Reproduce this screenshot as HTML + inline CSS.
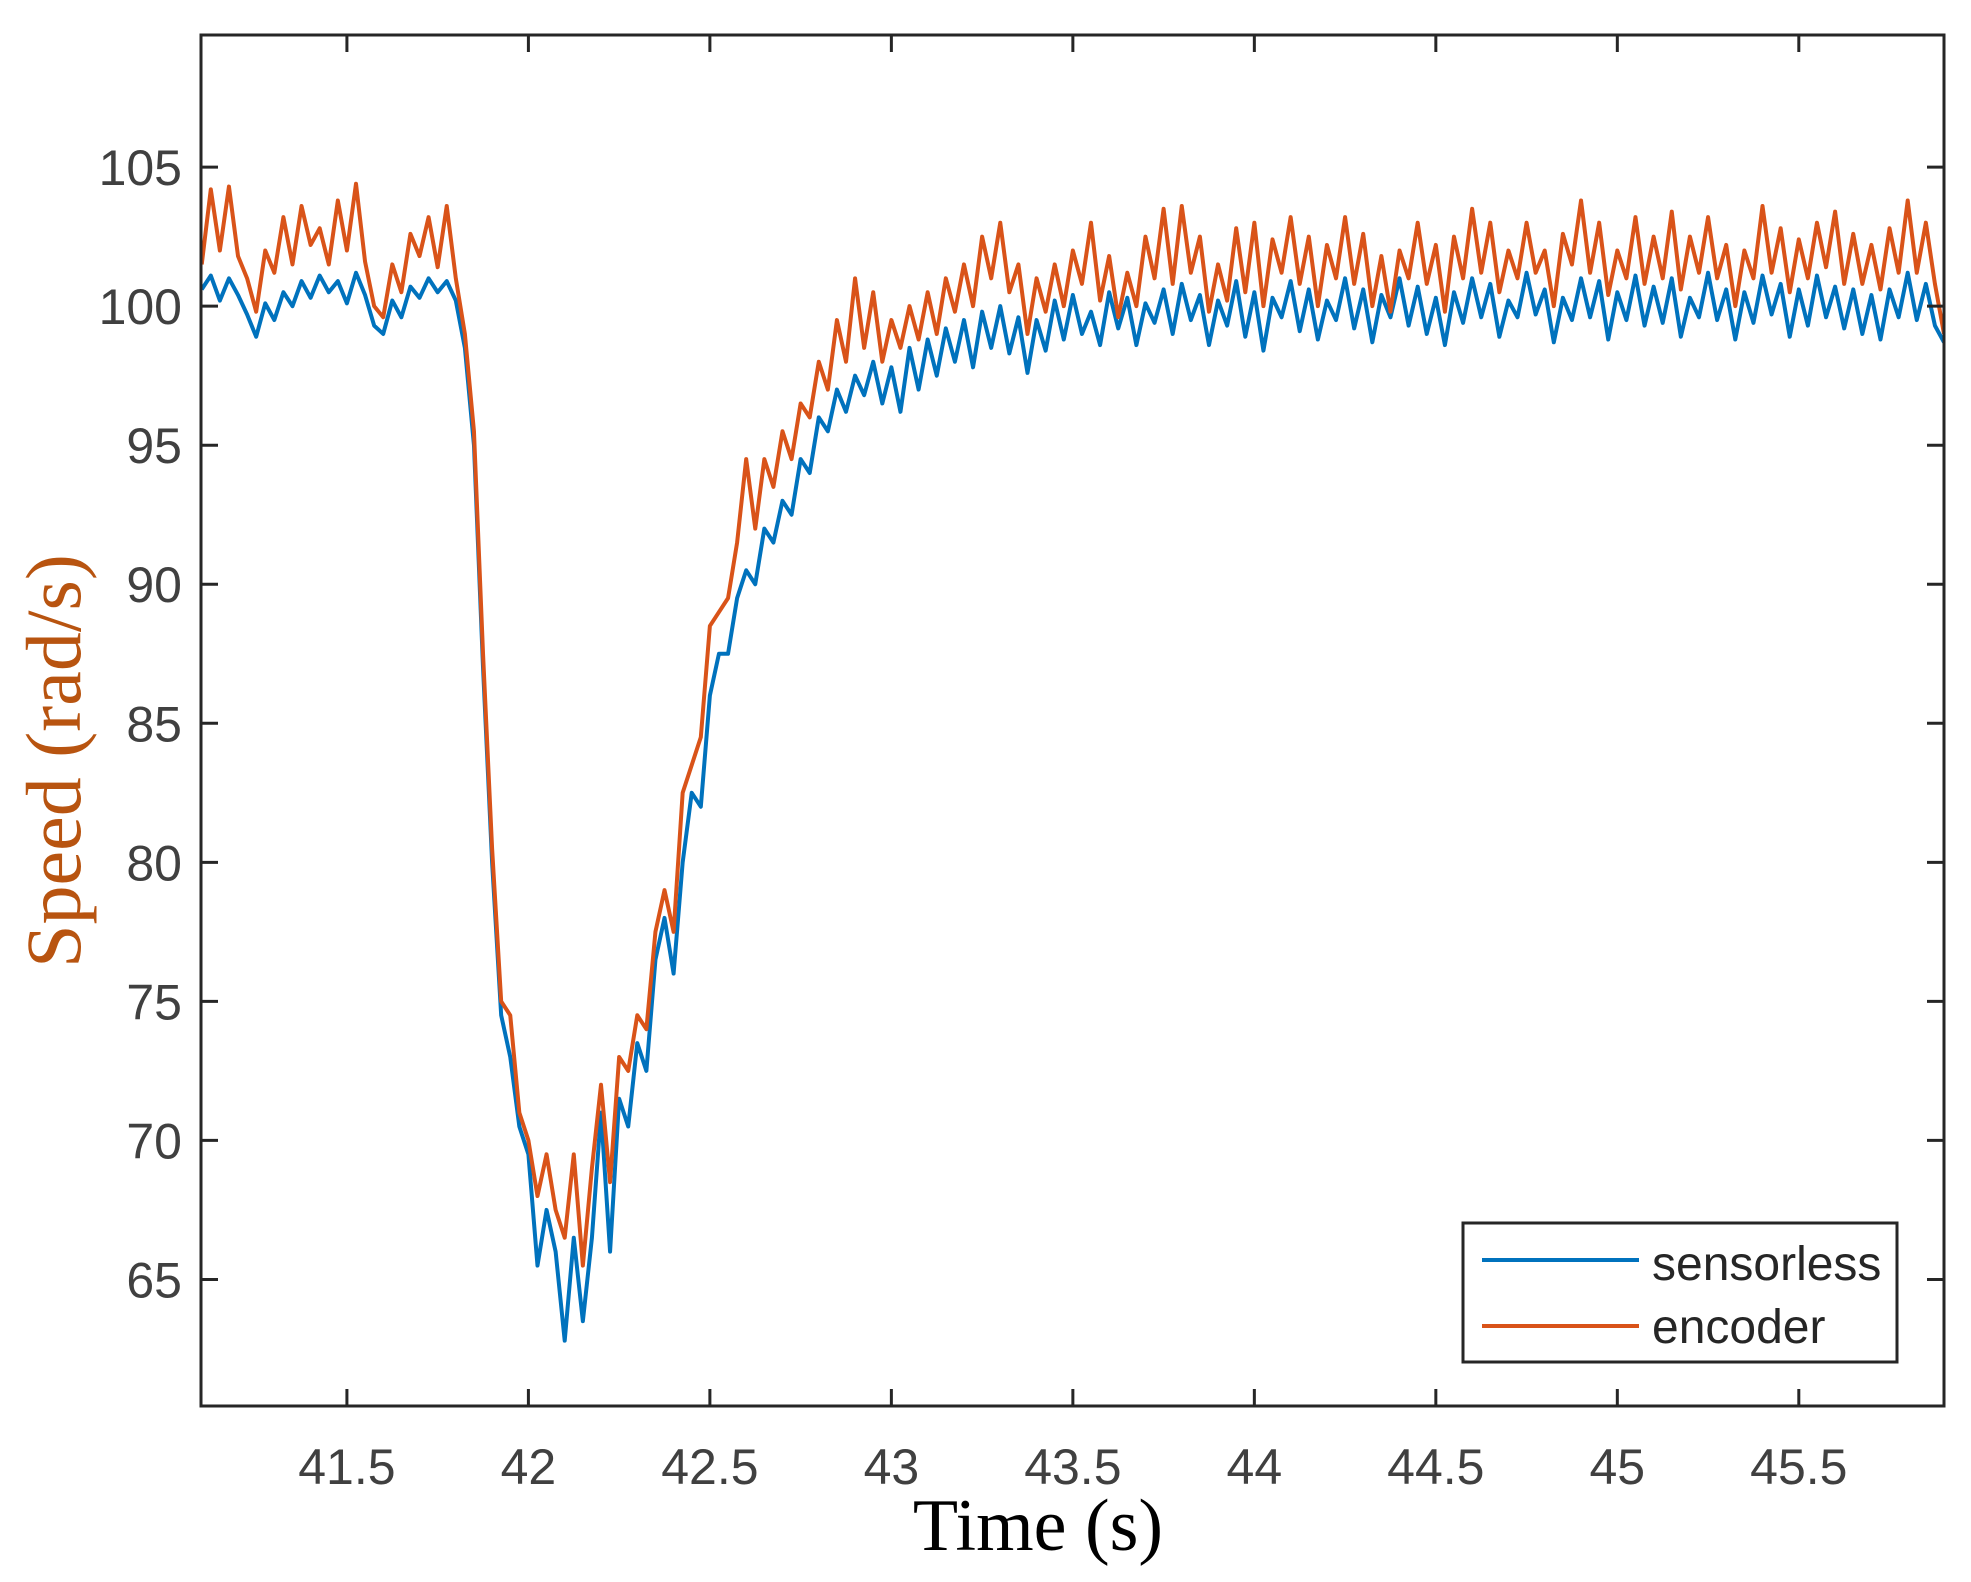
<!DOCTYPE html>
<html><head><meta charset="utf-8">
<style>html,body{margin:0;padding:0;background:#fff;}svg{display:block;}</style>
</head><body>
<svg id="chart" width="1971" height="1582" viewBox="0 0 1971 1582" xmlns="http://www.w3.org/2000/svg">
<rect x="0" y="0" width="1971" height="1582" fill="#fff"/>
<g id="plot"></g>
<g id="axes"></g>
<text x="1038" y="1550" text-anchor="middle" font-family="Liberation Serif, serif" font-size="74" fill="#000">Time (s)</text>
<text transform="translate(80,761) rotate(-90)" text-anchor="middle" font-family="Liberation Serif, serif" font-size="78" fill="#b85410">Speed (rad/s)</text>
<g>
<rect x="1463" y="1223" width="434" height="139" fill="#fff" stroke="#262626" stroke-width="3"/>
<line x1="1482" y1="1260" x2="1639" y2="1260" stroke="#0072BD" stroke-width="4"/>
<text x="1652" y="1280" font-family="Liberation Sans, sans-serif" font-size="48" fill="#262626">sensorless</text>
<line x1="1482" y1="1326" x2="1639" y2="1326" stroke="#D95319" stroke-width="4"/>
<text x="1652" y="1343" font-family="Liberation Sans, sans-serif" font-size="48" fill="#262626">encoder</text>
</g>
</svg>
<script>
const tStart = 41.1;
const tStep = 0.025;
const sensorless = [
100.6,101.1,100.2,101.0,100.4,99.7,98.9,100.1,99.5,100.5,100.0,100.9,100.3,101.1,100.5,100.9,100.1,101.2,100.4,99.3,99.0,100.2,99.6,100.7,100.3,101.0,100.5,100.9,100.2,
98.5,95.0,87.0,80.0,74.5,73.0,70.5,69.5,65.5,67.5,66.0,62.8,66.5,63.5,66.5,71.0,66.0,71.5,70.5,73.5,72.5,76.5,78.0,76.0,80.0,82.5,82.0,86.0,87.5,87.5,89.5,90.5,90.0,92.0,91.5,93.0,92.5,94.5,94.0,96.0,95.5,97.0,96.2,97.5,
96.8,98.0,96.5,97.8,96.2,98.5,97.0,98.8,97.5,99.2,
98.0,99.5,97.8,99.8,98.5,100.0,98.3,99.6,97.6,99.5,
98.4,100.2,98.8,100.4,99.0,99.8,98.6,100.5,99.2,100.3,
98.6,100.1,99.4,100.6,99.0,100.8,99.5,100.4,98.6,100.2,
99.3,100.9,98.9,100.5,98.4,100.3,99.6,100.9,99.1,100.6,
98.8,100.2,99.5,101.0,99.2,100.6,98.7,100.4,99.6,101.0,
99.3,100.7,99.0,100.3,98.6,100.5,99.4,101.0,99.6,100.8,
98.9,100.2,99.6,101.2,99.7,100.6,98.7,100.3,99.5,101.0,
99.6,100.9,98.8,100.5,99.5,101.1,99.3,100.7,99.4,101.0,
98.9,100.3,99.6,101.2,99.5,100.6,98.8,100.5,99.4,101.1,
99.7,100.8,98.9,100.6,99.3,101.1,99.6,100.7,99.2,100.6,
99.0,100.4,98.8,100.6,99.6,101.2,99.5,100.8,99.3,98.7];
const encoder = [
101.5,104.2,102.0,104.3,101.8,101.0,99.8,102.0,101.2,103.2,101.5,103.6,102.2,102.8,101.5,103.8,102.0,104.4,101.6,100.0,99.6,101.5,100.5,102.6,101.8,103.2,101.4,103.6,101.0,
99.0,95.5,87.5,80.5,75.0,74.5,71.0,70.0,68.0,69.5,67.5,66.5,69.5,65.5,69.0,72.0,68.5,73.0,72.5,74.5,74.0,77.5,79.0,77.5,82.5,83.5,84.5,88.5,89.0,89.5,91.5,94.5,92.0,94.5,93.5,95.5,94.5,96.5,96.0,98.0,97.0,99.5,98.0,101.0,
98.5,100.5,98.0,99.5,98.5,100.0,98.8,100.5,99.0,101.0,
99.8,101.5,100.0,102.5,101.0,103.0,100.5,101.5,99.0,101.0,
99.8,101.5,100.0,102.0,100.8,103.0,100.2,101.8,99.6,101.2,
100.0,102.5,101.0,103.5,100.8,103.6,101.2,102.5,99.8,101.5,
100.2,102.8,100.5,103.0,100.0,102.4,101.2,103.2,100.8,102.5,
100.0,102.2,101.0,103.2,100.8,102.6,100.0,101.8,99.8,102.0,
101.0,103.0,100.8,102.2,99.8,102.5,101.0,103.5,101.2,103.0,
100.5,102.0,101.0,103.0,101.2,102.0,100.0,102.6,101.5,103.8,
101.2,103.0,100.4,102.0,101.0,103.2,100.8,102.5,101.0,103.4,
100.6,102.5,101.2,103.2,101.0,102.2,100.0,102.0,101.0,103.6,
101.2,102.8,100.5,102.4,101.0,103.0,101.4,103.4,100.8,102.6,
100.8,102.2,100.6,102.8,101.2,103.8,101.2,103.0,100.8,99.0];
const xTicks = [41.5,42,42.5,43,43.5,44,44.5,45,45.5];
const xTickLabels = ["41.5","42","42.5","43","43.5","44","44.5","45","45.5"];
const yTicks = [65,70,75,80,85,90,95,100,105];
const yTickLabels = ["65","70","75","80","85","90","95","100","105"];

const L=201,R=1944,T=35,B=1406;
const xMin=41.098,xMax=45.9,yMin=60.45,yMax=109.75;
function xs(v){return L+(v-xMin)/(xMax-xMin)*(R-L);}
function ys(v){return B-(v-yMin)/(yMax-yMin)*(B-T);}
const NS="http://www.w3.org/2000/svg";
const plot=document.getElementById('plot');
const axes=document.getElementById('axes');
function mk(tag,attrs,parent){const e=document.createElementNS(NS,tag);for(const k in attrs)e.setAttribute(k,attrs[k]);parent.appendChild(e);return e;}

const clip=mk('clipPath',{id:'cp'},plot);
mk('rect',{x:L,y:T,width:R-L,height:B-T},clip);

function series(arr,color,name){
  let d='';
  arr.forEach((v,i)=>{d+=(i?'L':'M')+xs(tStart+i*tStep).toFixed(2)+','+ys(v).toFixed(2);});
  const p=mk('path',{d:d,fill:'none',stroke:color,'stroke-width':4,'stroke-linejoin':'round','clip-path':'url(#cp)'},plot);
  
  
}
series(sensorless,'#0072BD','sensorless-line');
series(encoder,'#D95319','encoder-line');

const frame=mk('rect',{x:L,y:T,width:R-L,height:B-T,fill:'none',stroke:'#262626','stroke-width':3},axes);



xTicks.forEach((v,i)=>{
  const x=xs(v);
  const t1=mk('line',{x1:x,y1:B,x2:x,y2:B-17,stroke:'#262626','stroke-width':3},axes);
  
  
  const t2=mk('line',{x1:x,y1:T,x2:x,y2:T+17,stroke:'#262626','stroke-width':3},axes);
  
  
  const tx=mk('text',{x:x,y:1484,'text-anchor':'middle','font-family':'Liberation Sans, sans-serif','font-size':50,fill:'#404040'},axes);
  tx.textContent=xTickLabels[i];
  
  
});
yTicks.forEach((v,i)=>{
  const y=ys(v);
  const t1=mk('line',{x1:L,y1:y,x2:L+17,y2:y,stroke:'#262626','stroke-width':3},axes);
  
  
  const t2=mk('line',{x1:R,y1:y,x2:R-17,y2:y,stroke:'#262626','stroke-width':3},axes);
  
  
  const tx=mk('text',{x:182,y:y+18,'text-anchor':'end','font-family':'Liberation Sans, sans-serif','font-size':50,fill:'#404040'},axes);
  tx.textContent=yTickLabels[i];
  
  
});
</script>
</body></html>
